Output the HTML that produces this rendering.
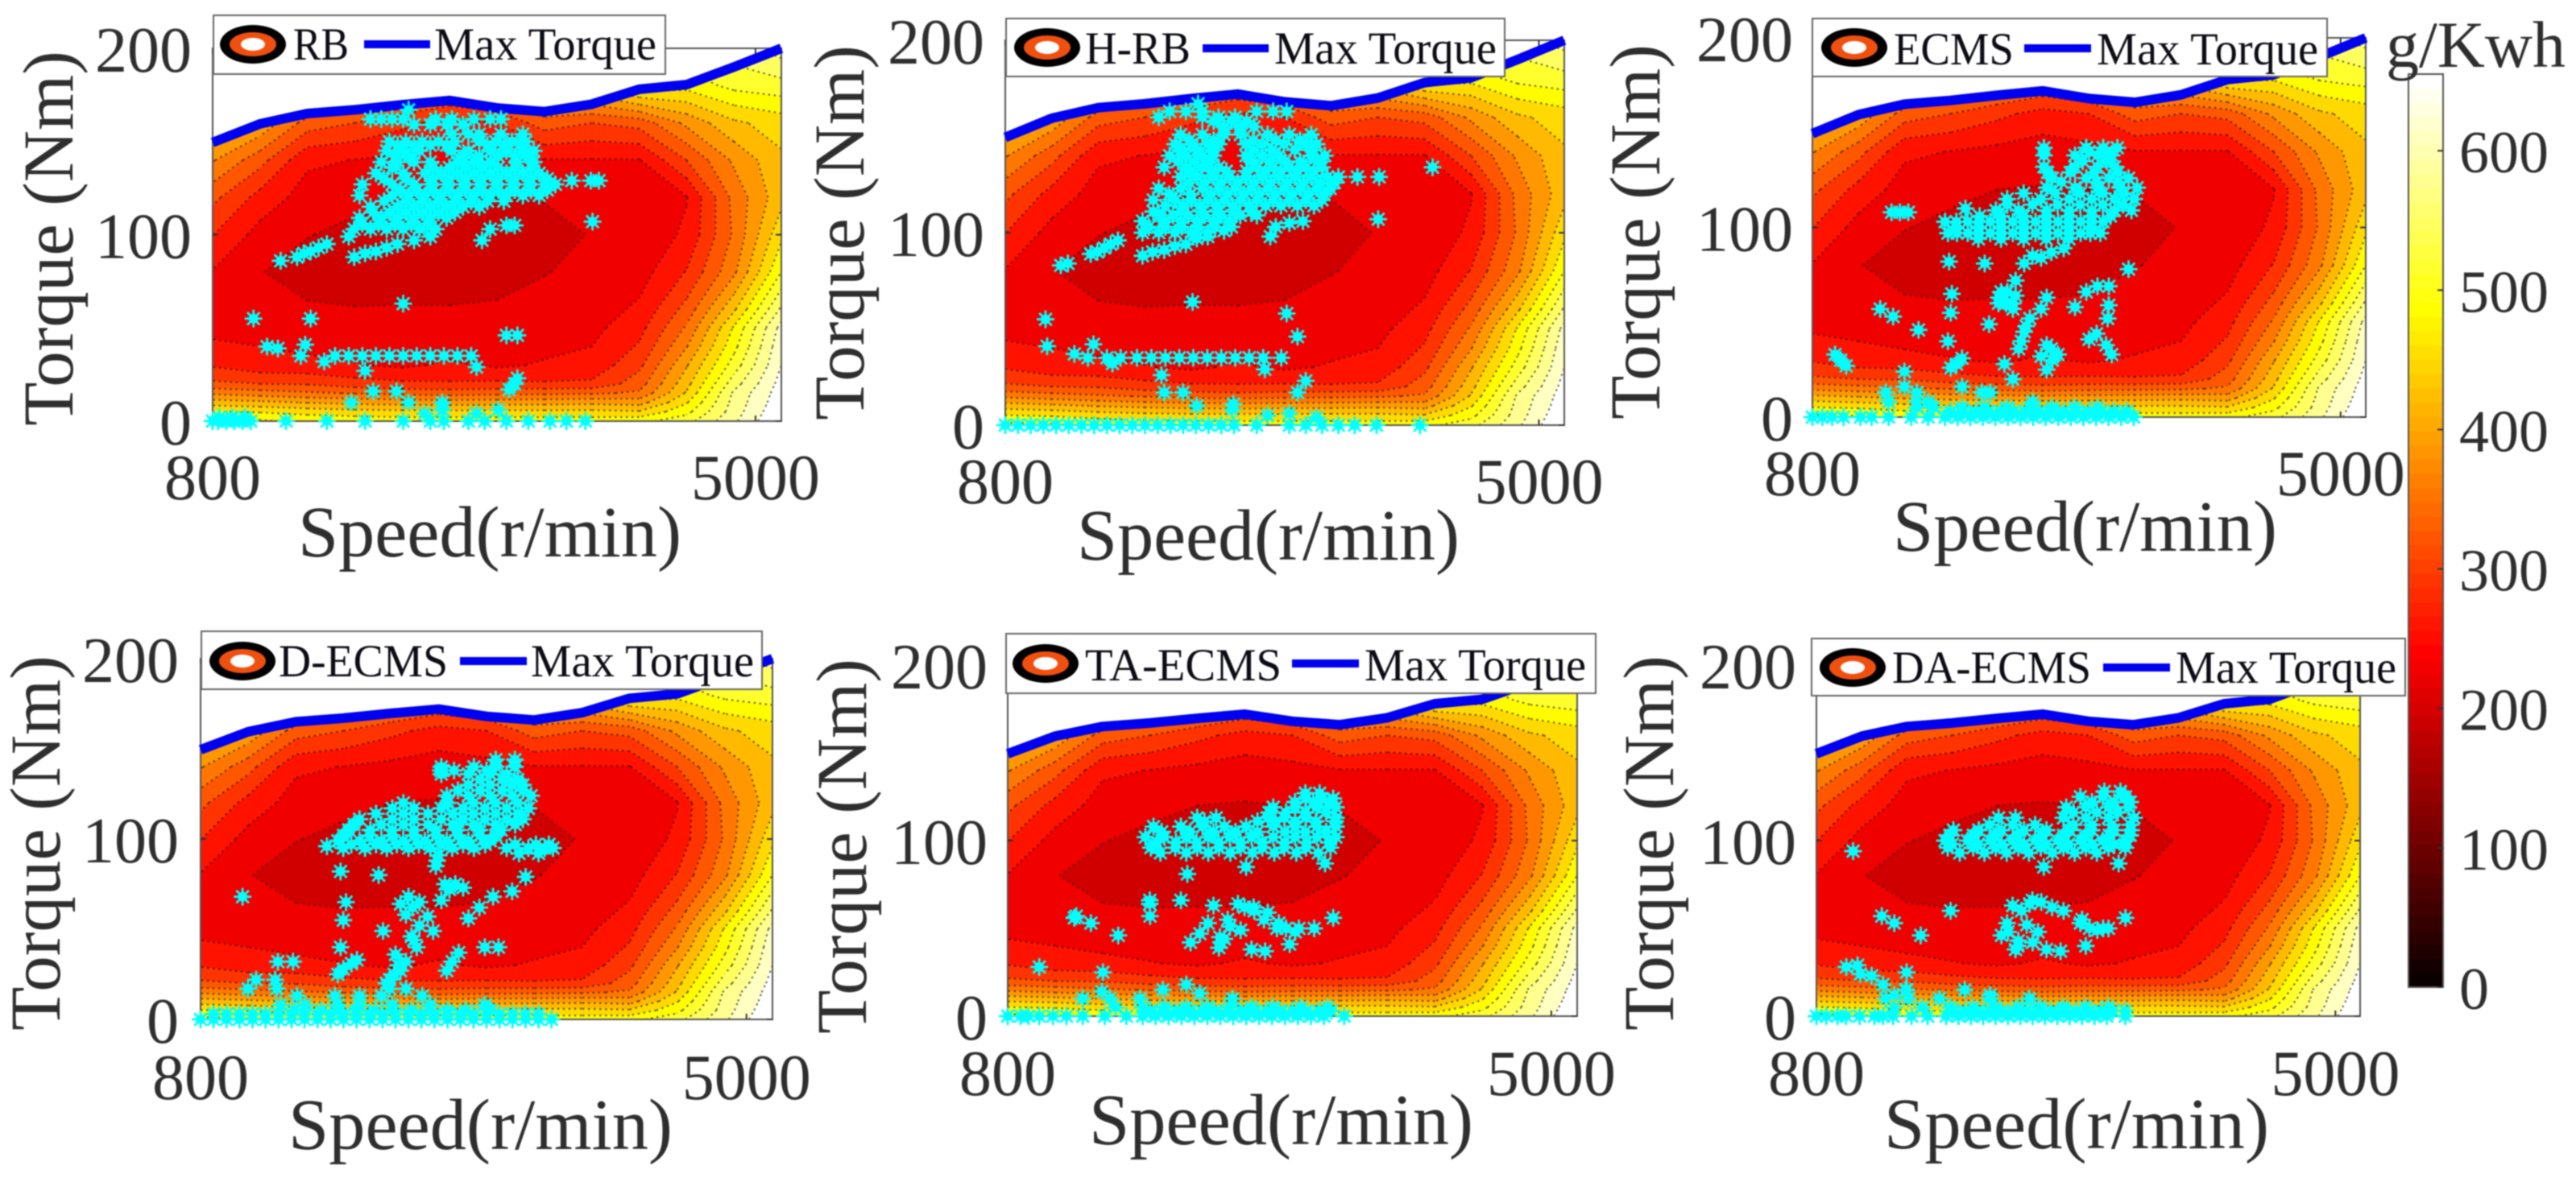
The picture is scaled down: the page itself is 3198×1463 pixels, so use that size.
<!DOCTYPE html>
<html lang="en">
<head>
<meta charset="utf-8">
<title>Engine operating points on BSFC maps</title>
<style>
html,body{margin:0;padding:0;background:#fff;width:3198px;height:1463px;overflow:hidden}
svg{display:block;filter:blur(0.7px)}
text{font-family:"Liberation Serif","Times New Roman",serif;fill:#2e2e2e}
.leg{fill:#0c0c14;font-size:57px}
.ax{font-size:90px}
.yt{font-size:89px}
</style>
</head>
<body>
<svg id="chart" xmlns="http://www.w3.org/2000/svg" width="3198" height="1463" viewBox="0 0 3198 1463">
<rect width="3198" height="1463" fill="#fff"/>

<g>
  <g id="marks-rb"></g>
  <text class="yt" transform="translate(90,296) rotate(-90)" text-anchor="middle">Torque (Nm)</text>
  <text class="ax" x="370" y="691" textLength="476" lengthAdjust="spacingAndGlyphs">Speed(r/min)</text>
  <g>
    <rect x="265" y="19" width="561" height="73" fill="#fff" stroke="#666" stroke-width="2"/>
    <ellipse cx="314" cy="55" rx="41" ry="24" fill="#000"/>
    <ellipse cx="314" cy="55" rx="29" ry="15" fill="#f0500f"/>
    <ellipse cx="314" cy="55" rx="15" ry="8" fill="#fff"/>
    <text class="leg" x="364" y="74" textLength="69" lengthAdjust="spacingAndGlyphs">RB</text>
    <line x1="452" x2="534" y1="55" y2="55" stroke="#0000f0" stroke-width="10"/>
    <text class="leg" x="539" y="74" textLength="276" lengthAdjust="spacingAndGlyphs">Max Torque</text>
  </g>
</g>

<g>
  <g id="marks-hrb"></g>
  <text class="yt" transform="translate(1072,289) rotate(-90)" text-anchor="middle">Torque (Nm)</text>
  <text class="ax" x="1337" y="695" textLength="475" lengthAdjust="spacingAndGlyphs">Speed(r/min)</text>
  <g>
    <rect x="1249" y="23" width="619" height="72" fill="#fff" stroke="#666" stroke-width="2"/>
    <ellipse cx="1300" cy="59" rx="41" ry="24" fill="#000"/>
    <ellipse cx="1300" cy="59" rx="29" ry="15" fill="#f0500f"/>
    <ellipse cx="1300" cy="59" rx="15" ry="8" fill="#fff"/>
    <text class="leg" x="1347" y="79" textLength="131" lengthAdjust="spacingAndGlyphs">H-RB</text>
    <line x1="1493" x2="1575" y1="60" y2="60" stroke="#0000f0" stroke-width="10"/>
    <text class="leg" x="1582" y="79" textLength="276" lengthAdjust="spacingAndGlyphs">Max Torque</text>
  </g>
</g>

<g>
  <g id="marks-ecms"></g>
  <text class="yt" transform="translate(2060,288) rotate(-90)" text-anchor="middle">Torque (Nm)</text>
  <text class="ax" x="2350" y="684" textLength="477" lengthAdjust="spacingAndGlyphs">Speed(r/min)</text>
  <g>
    <rect x="2250" y="23" width="639" height="72" fill="#fff" stroke="#666" stroke-width="2"/>
    <ellipse cx="2302" cy="59" rx="41" ry="24" fill="#000"/>
    <ellipse cx="2302" cy="59" rx="29" ry="15" fill="#f0500f"/>
    <ellipse cx="2302" cy="59" rx="15" ry="8" fill="#fff"/>
    <text class="leg" x="2351" y="80" textLength="149" lengthAdjust="spacingAndGlyphs">ECMS</text>
    <line x1="2513" x2="2596" y1="60" y2="60" stroke="#0000f0" stroke-width="10"/>
    <text class="leg" x="2603" y="80" textLength="275" lengthAdjust="spacingAndGlyphs">Max Torque</text>
  </g>
</g>

<g>
  <g id="marks-decms"></g>
  <text class="yt" transform="translate(74,1047) rotate(-90)" text-anchor="middle">Torque (Nm)</text>
  <text class="ax" x="358" y="1427" textLength="477" lengthAdjust="spacingAndGlyphs">Speed(r/min)</text>
  <g>
    <rect x="250" y="784" width="696" height="72" fill="#fff" stroke="#666" stroke-width="2"/>
    <ellipse cx="301" cy="821" rx="41" ry="24" fill="#000"/>
    <ellipse cx="301" cy="821" rx="29" ry="15" fill="#f0500f"/>
    <ellipse cx="301" cy="821" rx="15" ry="8" fill="#fff"/>
    <text class="leg" x="346" y="840" textLength="210" lengthAdjust="spacingAndGlyphs">D-ECMS</text>
    <line x1="571" x2="654" y1="821" y2="821" stroke="#0000f0" stroke-width="10"/>
    <text class="leg" x="659" y="840" textLength="277" lengthAdjust="spacingAndGlyphs">Max Torque</text>
  </g>
</g>

<g>
  <g id="marks-taecms"></g>
  <text class="yt" transform="translate(1075,1051) rotate(-90)" text-anchor="middle">Torque (Nm)</text>
  <text class="ax" x="1352" y="1421" textLength="477" lengthAdjust="spacingAndGlyphs">Speed(r/min)</text>
  <g>
    <rect x="1249" y="787" width="732" height="74" fill="#fff" stroke="#666" stroke-width="2"/>
    <ellipse cx="1298" cy="824" rx="41" ry="24" fill="#000"/>
    <ellipse cx="1298" cy="824" rx="29" ry="15" fill="#f0500f"/>
    <ellipse cx="1298" cy="824" rx="15" ry="8" fill="#fff"/>
    <text class="leg" x="1347" y="845" textLength="244" lengthAdjust="spacingAndGlyphs">TA-ECMS</text>
    <line x1="1604" x2="1687" y1="824" y2="824" stroke="#0000f0" stroke-width="10"/>
    <text class="leg" x="1694" y="845" textLength="275" lengthAdjust="spacingAndGlyphs">Max Torque</text>
  </g>
</g>

<g>
  <g id="marks-daecms"></g>
  <text class="yt" transform="translate(2077,1047) rotate(-90)" text-anchor="middle">Torque (Nm)</text>
  <text class="ax" x="2339" y="1426" textLength="478" lengthAdjust="spacingAndGlyphs">Speed(r/min)</text>
  <g>
    <rect x="2249" y="793" width="737" height="71" fill="#fff" stroke="#666" stroke-width="2"/>
    <ellipse cx="2300" cy="829" rx="41" ry="24" fill="#000"/>
    <ellipse cx="2300" cy="829" rx="29" ry="15" fill="#f0500f"/>
    <ellipse cx="2300" cy="829" rx="15" ry="8" fill="#fff"/>
    <text class="leg" x="2349" y="848" textLength="247" lengthAdjust="spacingAndGlyphs">DA-ECMS</text>
    <line x1="2611" x2="2694" y1="829" y2="829" stroke="#0000f0" stroke-width="10"/>
    <text class="leg" x="2701" y="848" textLength="274" lengthAdjust="spacingAndGlyphs">Max Torque</text>
  </g>
</g>

<g id="colorbar"></g>
<text x="2962" y="83" font-size="82" textLength="223" lengthAdjust="spacingAndGlyphs">g/Kwh</text>
</svg>

<script>
/* ---------- shared engine map values ---------- */
const gridSpeed = [800,1167,1533,1900,2267,2633,3000,3367,3733,4100,4467,4833,5200];
const gridTorque = [0,5,10,15,20,30,40,50,60,80,100,120,140,160,180,200];
const maxTorque = [149.5,159.5,165,167,169.7,172,168,166,170,178,180.5,190,200];
const bsfc800  = [530,490,440,385,335,292,268,258,250,262,297,337,395,470,530,570];
const bsfc1167 = [525,485,432,375,328,275,264,250,240,233,252,284,340,420,500,550];
const bsfc1533 = [515,475,422,365,325,272,258,245,235,222,233,250,270,345,450,520];
const bsfc1900 = [510,468,415,358,310,266,252,240,233,220,226,238,263,328,420,500];
const bsfc2267 = [505,465,410,350,303,258,248,240,234,218,222,232,255,305,400,490];
const bsfc2633 = [505,465,408,345,300,270,250,240,234,216,220,230,248,284,380,480];
const bsfc3000 = [505,465,410,350,303,258,248,242,236,220,224,232,253,296,400,490];
const bsfc3367 = [505,465,412,352,300,268,255,247,240,231,226,233,262,345,440,510];
const bsfc3733 = [505,465,415,355,302,275,264,255,248,238,233,240,262,328,460,530];
const bsfc4100 = [510,460,410,365,345,320,300,285,270,250,242,245,262,340,510,570];
const bsfc4467 = [540,510,485,460,445,421,390,365,340,298,270,262,328,400,500,550];
const bsfc4833 = [610,600,595,590,570,535,510,492,450,385,365,370,398,450,530,570];
const bsfc5200 = [685,678,670,665,660,648,640,628,590,520,480,445,450,470,540,600];
const bsfcColumns = [bsfc800,bsfc1167,bsfc1533,bsfc1900,bsfc2267,bsfc2633,bsfc3000,bsfc3367,bsfc3733,bsfc4100,bsfc4467,bsfc4833,bsfc5200];
const bsfcBase = 200;
const bsfcLevels = [232,264,296,328,360,392,424,456,488,520,552,584,616,648];
const xTickValues = [800,5000];
const yTickValues = [0,100,200];
const colorbarTicks = [0,100,200,300,400,500,600];
const colorbarMax = 655;

/* ---------- operating points: torque row + speeds in that row ---------- */
const rbTorque = [0,4,6,10,16,17,20,23,27,29,32,35,39,40,41,46,55,63,86,88,91,95,97,99,103,105,107,109,115,121,127,129,133,139,145,150,154,159,162,167,
 106,112,118,124,130,136,142,148,90,93,97,2];
const rbSpeed = [
[800,842,905,968,1032,1095,1368,1684,1979,2274,2484,2589,2779,2905,3073,3242,3410,3537,3684],
[2442,2842],[2577,3010],[1874,2316,2577],[2042,2223],[3095],[3137],[3158],[1979],[2842],[1663],
[1482,1747,1853,1958,2063,2168,2274,2379,2484,2589,2694,2800],[1305],[1221],[1516],[3073,3158],[1116,1558],[2274],[1326],
[1453,1895],[1558,2063],[1684,2231],[2884],[1853,2484],
[1895,2021,2147,2274,2400,2526,2947],[3073,3137],[3739],
[1937,2105,2231,2358,2484,2610],
[2021,2231,2358,2484,2610,2737,2863],
[1937,2189,2316,2442,2568,2695,2821,2947,3073,3200,3326],
[1958,2189,2358,2484,2610,2737,2863,2989,3116,3242,3368,3452],
[3579,3726,3789],
[2063,2274,2442,2568,2695,2821,2947,3073,3200,3326],
[2105,2231,2358,2484,2695,2821,2947,3158,3284],
[2147,2274,2400,2652,2779,2947,3073,3200,3284],
[2168,2295,2421,2547,2674,2863,2989,3116,3221],
[2652,2779,2863,3031,3200],
[2358,2484,2610,2737],
[2021,2105,2189,2274,2526,2652,2821,2947,3031],
[2316],
[1958,2084,2210,2337,2463],
[2042,2168,2295,2421,2547,2674],
[2126,2295,2421,2547,2674,2800,2926,3053],
[2252,2379,2505,2632,2758,2884,3010,3137,3263,3389],
[2126,2295,2505,2632,2758,2884,3010,3137,3263,3389],
[2189,2505,2632,2758,2884,3010,3137,3263],
[2210,2316,2737,2863,3010,3137,3242],
[2231,2358,2484,2610,2926,3053,3179],
[1505,1980],[1620,2147],[2358],[850,950,1050]];

const hrbTorque = [0,4,5,6,8,10,11,17,23,26,29,32,35,37,41,42,46,55,58,64,83,84,89,88,91,92,94,96,98,100,101,103,105,106,107,111,117,123,129,134,140,146,151,155,160,163,167,
 103,109,114,120,126,132,137,143,148,158,94,90,93,97];
const hrbSpeed = [
[800,900,1000,1100,1200,1300,1400,1500,1600,1700,1800,1900,2000,2100,2200,2300,2400,2500,2600,2779,3036,3165,3293,3422,3550,3722,4064],
[3250],[2865],[3036],[2586],[2308],[2595],[2051,2200,3100],[3165],[2030],[2843],[1644],
[1451,1600,1708,1837,1950,2060,2170,2280,2390,2500,2610,2720,2830,2972],[1344],[1130],[1494],[3100],[1117],[3015],[2274],
[1237],[1293],[1472],[1880],[2051],[1580],[2222],[1687],[2394,2886],[1880,2008,2137,2265,2394],[2522],[2929],[3036],
[1880,2051,2180,2308,2437,2565,3143],[3735],
[1965,2180,2351,2479,2608,2736],
[1965,2137,2265,2394,2522,2651,2779,2908,3036,3165,3293],
[2008,2180,2351,2479,2608,2736,2865,2993,3122,3250,3357],
[2180,2308,2437,2565,2694,2822,2951,3079,3208,3336,3422,3572,3743],
[2051,2222,2351,2479,2779,2908,3036,3165,3293,4163],
[2094,2222,2351,2437,2694,2822,2951,3208,3315],
[2137,2265,2394,2479,2694,2822,2993,3165,3250],
[2180,2351,2522,2651,2865,3036,3208],
[2522,2651,2758],
[2008,2351,2479,2608],
[2094,2222,2351,2779,2908,3015],
[2317],
[1930,2060,2190,2320,2450,2580],
[2010,2120,2240,2370,2500,2650,2780],
[2060,2200,2330,2460,2590,2720,2850,2970,3100,3230],
[2090,2260,2420,2550,2680,2800,2930,3060,3190,3310],
[2250,2370,2500,2630,2760,2890,3020,3150,3280,3390],
[2260,2420,2540,2700,2850,2970,3100,3230],
[2160,2290,2400,2740,2880,3000,3120,3260],
[2180,2310,2440,2750,2900,3080,3210],
[2250,2440,2750,2930,3120],
[2440,2580,2700],
[1630],[1525,1960],[2135],[2308]];

const ecmsTorque = [0,5,8,13,16,20,24,25,26,27,28,30,31,32,33,38,40,41,45,46,49,52,53,55,57,58,59,60,63,64,65,66,69,72,78,81,82,84,89,97,103,108,109,110,115,121,126,132,138,142,
 100,94,106,97,103,112,118,124,129,135,140,85,87,36,48,60,66,44,3];
const ecmsSpeed = [
[800,880,957,1047,1182,1271,1406,1586,1720,1855,1955,2055,2155,2255,2355,2455,2555,2655,2755,2855,2955,3055,3155,3255,3355],
[1631,1765,1990,2170,2349,2529,2708,2888,3067],
[1406,1631,1720,2551],[1384,1631,2147,2214],[1532,1990],[2394],[1532],[2663],[1900],[1069],[1945,2327],[1025,2708],[1990],[2618],[980,2753,3180],
[2663,3135],[1878,2461],[3000],[2484],[1644],[2205],[2529,3148],[1442],[1900],[1339,2394,2618],[2888],[3157],[2394],
[2282,2663],[2416],[1909],[2978],[3067,3157],[2416],[3314],[2170,2484],[1887],[2618],[2798],
[1878,2035,2214,2394,2574,2753,2933,3090],
[1855,2035,2214,2394,2574,2753,2933,3112],
[1429,1496,1563],
[2259,2439,2663,2843,3022,3202,3337],
[2017],
[2349,2618,2843,3022,3202,3359],
[2663,2888,3067,3247,3382],
[2708,2978,3157,3314],
[2641,2888,3067,3202],
[2641,2888,3067,3180],
[2641,2978,3112,3225],
[1940,2120,2300,2480,2660,2840,3020],
[2120,2300,2480,2660,2840],
[2130,2300,2480,2660,2840,3020,3170],
[1950,2125,2300,2480,2660,2840,3010],
[1945,2125,2300,2480,2660,2840,3020],
[2350,2550,2750,2930,3110,3270],
[2480,2730,2930,3110,3280],
[2780,3060,3230],
[2670,2850,3040,3230],
[2950,3140],
[3000,3140],
[2550],[2700],[2440,2700],[2500],[2280,2340],[2300,2350],[3060],
[1900,2000,2100,2200,2300,2400,2500,2600,2700,2800,2900,3000,3100,3200,3300]];

const decmsTorque = [0,5,8,13,17,22,25,27,28,31,32,33,37,40,46,49,52,55,56,57,58,62,64,65,66,68,71,72,73,79,80,82,85,91,95,96,99,105,111,117,124,130,136,140,144,
 97,102,108,114,120,127,133,138,92,97,88,75,62,68,44,36,30,25,20,3];
const decmsSpeed = [
[800,900,1000,1100,1200,1300,1400,1500,1600,1700,1800,1900,2000,2100,2200,2300,2400,2500,2600,2700,2800,2900,3000,3100,3200,3300,3400,3500],
[1521,1730,1856,2000,2140,2280,2420,2560,2700,2840,3029],
[1416,1604,1856,2023,2275,2568,2987],
[1542,1835,2023,2191,2505],
[1165,1387,2254,2380],
[1227,1374,2254],[1856],[2338,2694],[1898],[1961],[1395,1512,2380,2736],[2003],[2786],
[1877,2463,2987,3092],[2422],[2204,2589],[2484],[1898],[2861],[2547],[2380],[2945],[2338],[1919,2484],[2652],[1123,3050],[3197],[2715],[2820],
[3301],[2170],[1877],[2610],[2631],[1898,2065,2233,2400,2568,2736,2903,3155,3322,3448,3511],[1772],
[1856,2023,2191,2359,2526,2694,2861,3029],
[1940,2107,2275,2442,2610,2778,2945,3113],
[2023,2275,2442,2652,2820,2987,3155,3280],
[2275,2442,2652,2820,2987,3155,3322],
[2694,2861,3029,3197,3343],
[2861,3029,3197,3280],
[2652,2861,3029,3155],
[2652,2903,3071,3218],
[3071,3218],
[1960,2150,2310,2480,2650,2820,2990],
[1900,2100,2270,2440,2610,2780,2950,3070],
[1980,2190,2360,2550,2740,2900,3070,3220],
[2150,2360,2550,2740,2900,3070,3240],
[2360,2700,2900,3070,3240],
[2780,2950,3120,3280],
[2950,3120,3240],
[2650,2750,3000],
[3250,3400],[3220,3380,3480],[2620],[2680,2760],[2430],[2400],[2440],[2300],[2320],[2290],[2230],
[900,1000,1100,1200,1300,1400,1500,1600,1700,1800,1900,2000,2100,2200,2300,2400,2500,2600,2700,2800,2900,3000,3100,3200,3300,3400]];

const taecmsTorque = [0,5,10,14,15,18,13,25,28,37,38,39,41,42,44,46,47,48,49,50,51,53,56,57,59,60,63,64,66,81,85,87,96,102,108,113,119,124,
 93,99,105,111,116,122,127,57,62,55,45,42,50,3];
const taecmsSpeed = [
[800,900,960,1044,1150,1254,1380,1550,1717,1843,1943,2043,2143,2243,2343,2443,2543,2643,2743,2843,2943,3043,3143,3243,3400],
[1633,1843,2011,2180,2348,2516,2684,2852,3063,3273],
[1380,1590,1822,2537],[1528],[1999],[2180],[2285],[1536],[1044],[2789],[2684],[2432],[2979],[2213],[2474],[1654],[2285],[3021],[2600],[3168],[2516],
[1443,2348,2895],[1315,3315],[1330],[2810],[2705],[2390],[1898,2579],[2138,1898],[2188],[2642],[3252],
[1906,2095,2264,2432,2600,2768,2937,3105,3294],
[1864,2011,2180,2348,2516,2684,2852,3021,3189,3336],
[1927,2138,2306,2474,2642,2852,3021,3189,3336],
[2264,2411,2810,2937,3105,3336],
[2852,3021,3189,3336],
[3105,3231,3315],
[1980,2180,2350,2520,2690,2860,3030,3200],
[1950,2100,2260,2430,2600,2770,2940,3110,3280],
[1990,2210,2390,2560,2730,2940,3100,3260],
[2320,2730,2870,3020,3180,3330],
[2820,2950,3100,3260],
[3020,3160,3280],
[3100,3210],
[1900],[2630,2700],[2500,2780],[2440],[2450],[2880,2950,3050],
[1900,2000,2100,2200,2300,2400,2500,2600,2700,2800,2900,3000,3100,3200,3300]];

const daecmsTorque = [0,5,10,12,15,18,23,24,25,28,29,37,38,40,43,46,48,49,50,52,53,56,57,60,62,63,64,66,85,87,94,96,100,106,113,119,125,
 93,98,103,109,116,122,128,60,65,55,50,48,42,40,3];
const daecmsSpeed = [
[800,880,970,1040,1150,1270,1340,1420,1570,1700,1850,1950,2050,2150,2250,2350,2450,2550,2650,2750,2850,2950,3050,3150,3300],
[1430,1658,1886,2070,2250,2430,2616,2800,2980,3164],
[1361,1544,1795,2206,2525],
[1430,2206],[1521,1530,2000],[1339],[1247],[1156],[1530],[1042],[1133],[2776],[2411,2662],[2980],[2434],[1644,2297],[2594],[3073],[3164],
[2502],[1430,2343,2936],[3301],[1329],[1886,2800],[2707],[2388],[2525],[2548],[2640],[3246],[1097],
[1863,2069,2251,2434,2616,2799,2981,3164,3301],
[1841,2023,2206,2388,2571,2753,2936,3118,3301],
[1909,2114,2297,2480,2662,2845,3027,3210,3347],
[2274,2411,2799,2981,3164,3370],
[2822,2981,3164,3324],
[2936,3118,3301],
[1960,2160,2340,2520,2710,2890,3070],
[1900,2110,2300,2480,2660,2840,3030,3210],
[1880,2070,2250,2430,2620,2800,2980,3170,3340],
[2200,2390,2570,2880,3030,3190,3340],
[2880,3070,3240],
[3030,3210,3340],
[3130,3260],
[2460],[2620],[2950],[3010,3120],[2350],[2550],[2430],
[1900,2000,2100,2200,2300,2400,2500,2600,2700,2800,2900,3000,3100,3200,3300]];

/* ---------- panel layout (pixels only, no data) ---------- */
const svg = document.getElementById('chart');
const NS = 'http://www.w3.org/2000/svg';
const panels = [
 {id:'rb',    name:'rb',      torque:rbTorque,    speed:rbSpeed,    left:264, right:970, top:60,  bottom:523,  tickRight:238,  xBase:620},
 {id:'hrb',   name:'h-rb',    torque:hrbTorque,   speed:hrbSpeed,   left:1248,right:1942,top:50,  bottom:528,  tickRight:1222, xBase:625},
 {id:'ecms',  name:'ecms',    torque:ecmsTorque,  speed:ecmsSpeed,  left:2250,right:2937,top:47,  bottom:518,  tickRight:2226, xBase:615},
 {id:'decms', name:'d-ecms',  torque:decmsTorque, speed:decmsSpeed, left:249, right:959, top:818, bottom:1266, tickRight:222,  xBase:1365},
 {id:'taecms',name:'ta-ecms', torque:taecmsTorque,speed:taecmsSpeed,left:1251,right:1958,top:826, bottom:1262, tickRight:1226, xBase:1360},
 {id:'daecms',name:'da-ecms', torque:daecmsTorque,speed:daecmsSpeed,left:2255,right:2930,top:826, bottom:1262, tickRight:2230, xBase:1360}
];

function mk(tag, attrs, parent){
  const e = document.createElementNS(NS, tag);
  for (const k in attrs) e.setAttribute(k, attrs[k]);
  if (parent) parent.appendChild(e);
  return e;
}
/* MATLAB "hot" colormap scaled to the colorbar range */
function hot(v){
  const t = Math.max(0, Math.min(1, v / colorbarMax));
  const r = Math.min(1, t / 0.375);
  const g = Math.max(0, Math.min(1, (t - 0.375) / 0.375));
  const b = Math.max(0, (t - 0.75) / 0.25);
  return 'rgb(' + Math.round(r*255) + ',' + Math.round(g*255) + ',' + Math.round(b*255) + ')';
}

function drawPanel(p){
  const root = document.getElementById('marks-' + p.id);
  const xs = s => p.left + (s - 800) / 4400 * (p.right - p.left);
  const ys = t => p.bottom - t / 200 * (p.bottom - p.top);

  /* clip map to the region below the max torque curve */
  const defs = mk('defs', {}, root);
  const clip = mk('clipPath', {id:'clip-' + p.id}, defs);
  let clipD = 'M' + xs(gridSpeed[0]) + ' ' + ys(0);
  gridSpeed.forEach((s,i) => { clipD += 'L' + xs(s).toFixed(1) + ' ' + ys(maxTorque[i]).toFixed(1); });
  clipD += 'L' + xs(gridSpeed[gridSpeed.length-1]) + ' ' + ys(0) + 'Z';
  mk('path', {d:clipD}, clip);

  const map = mk('g', {'clip-path':'url(#clip-' + p.id + ')'}, root);
  
  

  const base = mk('rect', {x:p.left, y:p.top, width:p.right-p.left, height:p.bottom-p.top, fill:hot(bsfcBase)}, map);
  
  

  let lineD = [];
  bsfcLevels.forEach(level => {
    let fillD = '';
    let segs = '';
    for (let c = 0; c < gridSpeed.length - 1; c++){
      for (let r = 0; r < gridTorque.length - 1; r++){
        const q = [
          [gridSpeed[c],   gridTorque[r],   bsfcColumns[c][r]],
          [gridSpeed[c+1], gridTorque[r],   bsfcColumns[c+1][r]],
          [gridSpeed[c+1], gridTorque[r+1], bsfcColumns[c+1][r+1]],
          [gridSpeed[c],   gridTorque[r+1], bsfcColumns[c][r+1]]
        ];
        const poly = [], cross = [];
        for (let i = 0; i < 4; i++){
          const a = q[i], b = q[(i+1)%4];
          if (a[2] >= level) poly.push([a[0], a[1]]);
          if ((a[2] >= level) !== (b[2] >= level)){
            const f = (level - a[2]) / (b[2] - a[2]);
            const pt = [a[0] + f*(b[0]-a[0]), a[1] + f*(b[1]-a[1])];
            poly.push(pt); cross.push(pt);
          }
        }
        if (poly.length > 2){
          fillD += 'M' + poly.map(v => xs(v[0]).toFixed(1) + ' ' + ys(v[1]).toFixed(1)).join('L') + 'Z';
        }
        for (let i = 0; i + 1 < cross.length; i += 2){
          segs += 'M' + xs(cross[i][0]).toFixed(1) + ' ' + ys(cross[i][1]).toFixed(1) +
                  'L' + xs(cross[i+1][0]).toFixed(1) + ' ' + ys(cross[i+1][1]).toFixed(1);
        }
      }
    }
    const col = level >= 648 ? '#fff' : hot(level);
    const band = mk('path', {d:fillD, fill:col, stroke:col, 'stroke-width':1}, map);
    
    
    lineD.push(segs);
  });
  const iso = mk('path', {d:lineD.join(''), fill:'none', stroke:'#000', 'stroke-opacity':0.6, 'stroke-width':2, 'stroke-dasharray':'2.5 4.5'}, map);
  
  

  /* axes box + ticks */
  const frame = mk('rect', {x:p.left, y:p.top, width:p.right-p.left, height:p.bottom-p.top, fill:'none', stroke:'#555', 'stroke-width':2}, root);
  
  

  yTickValues.forEach(v => {
    const y = ys(v);
    const t1 = mk('path', {d:'M'+p.left+' '+y+'h7M'+p.right+' '+y+'h-7', stroke:'#333', 'stroke-width':2}, root);
    
    
    const lab = mk('text', {x:p.tickRight, y:y+29, 'text-anchor':'end', 'font-size':80}, root);
    
    
    lab.textContent = v;
  });
  xTickValues.forEach(v => {
    const x = xs(v);
    const t2 = mk('path', {d:'M'+x+' '+p.bottom+'v-7M'+x+' '+p.top+'v7', stroke:'#333', 'stroke-width':2}, root);
    
    
    const lab2 = mk('text', {x:x, y:p.xBase, 'text-anchor':'middle', 'font-size':80}, root);
    
    
    lab2.textContent = v;
  });

  /* max torque curve */
  let curveD = '';
  gridSpeed.forEach((s,i) => { curveD += (i ? 'L' : 'M') + xs(s).toFixed(1) + ' ' + ys(maxTorque[i]).toFixed(1); });
  const curve = mk('path', {d:curveD, fill:'none', stroke:'#0000f0', 'stroke-width':12, 'stroke-linejoin':'round'}, root);
  
  

  /* operating points */
  const pts = mk('g', {stroke:'#00ffff', 'stroke-width':2.8, fill:'#00ffff'}, root);
  
  
  const R = 11, D = 7.8, C = 4.5;
  p.torque.forEach((t,i) => {
    p.speed[i].forEach(s => {
      const x = xs(s), y = ys(t);
      const star = mk('path', {d:
        'M'+(x-R)+' '+y+'h'+(2*R)+
        'M'+x+' '+(y-R)+'v'+(2*R)+
        'M'+(x-D)+' '+(y-D)+'l'+(2*D)+' '+(2*D)+
        'M'+(x-D)+' '+(y+D)+'l'+(2*D)+' '+(-2*D)+
        'M'+(x-C)+' '+y+'a'+C+' '+C+' 0 1 0 '+(2*C)+' 0a'+C+' '+C+' 0 1 0 '+(-2*C)+' 0Z'}, pts);
      
      
    });
  });
}
panels.forEach(drawPanel);

/* ---------- colorbar ---------- */
(function(){
  const g = document.getElementById('colorbar');
  const left = 2990, right = 3033, top = 92, bottom = 1226;
  const yc = v => bottom - v / colorbarMax * (bottom - top);
  const steps = 64;
  for (let i = 0; i < steps; i++){
    const v0 = i / steps * colorbarMax, v1 = (i+1) / steps * colorbarMax;
    const seg = mk('rect', {x:left, y:yc(v1), width:right-left, height:yc(v0)-yc(v1)+0.6, fill:hot(v1)}, g);
    
    
  }
  const box = mk('rect', {x:left, y:top, width:right-left, height:bottom-top, fill:'none', stroke:'#555', 'stroke-width':2}, g);
  
  
  colorbarTicks.forEach(v => {
    const y = yc(v);
    const tick = mk('line', {x1:right-7, x2:right, y1:y, y2:y, stroke:'#333', 'stroke-width':2}, g);
    
    
    const lab = mk('text', {x:3053, y:y+27, 'font-size':74}, g);
    
    
    lab.textContent = v;
  });
})();
</script>
</body>
</html>
